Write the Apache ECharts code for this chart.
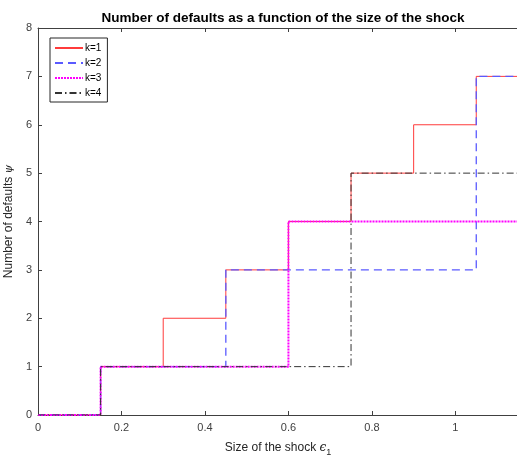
<!DOCTYPE html>
<html>
<head>
<meta charset="utf-8">
<script src="https://cdn.jsdelivr.net/npm/echarts@6/dist/echarts.min.js"></script>
<style>
  html, body { margin: 0; padding: 0; background: #fff; }
  #chart { width: 517px; height: 458px; }
</style>
</head>
<body>
<div id="chart"></div>
<script>
// Shock sizes where the number of defaults changes (last entry closes the axis)
var shockSizes = [0, 0.15, 0.3, 0.45, 0.6, 0.75, 0.9, 1.05, 1.15];
// Number of defaults from each shock size onward, per k
var defaultsK1 = [0, 1, 2, 3, 4, 5, 6, 7, 7];
var defaultsK2 = [0, 1, 1, 3, 3, 3, 3, 7, 7];
var defaultsK3 = [0, 1, 1, 1, 4, 4, 4, 4, 4];
var defaultsK4 = [0, 1, 1, 1, 1, 5, 5, 5, 5];
var seriesNames = ['k=1', 'k=2', 'k=3', 'k=4'];
var xTicks = [0, 0.2, 0.4, 0.6, 0.8, 1];

function pairs(xs, ys) {
  return xs.map(function (x, i) { return [x, ys[i]]; });
}

var FONT = '"Liberation Sans", Arial, Helvetica, sans-serif';
var AXIS_COLOR = '#404040';

var styles = [
  { color: '#ff3b3b', type: 'solid', width: 1 },
  { color: '#5a5aff', type: [8, 5], width: 1.3 },
  { color: '#ff00ff', type: [2, 1], width: 2 },
  { color: '#333333', type: [7, 3, 1.5, 3], width: 1 }
];
var values = [defaultsK1, defaultsK2, defaultsK3, defaultsK4];

var chart = echarts.init(document.getElementById('chart'), null, { renderer: 'canvas' });

var series = seriesNames.map(function (name, i) {
  return {
    name: name,
    type: 'line',
    step: 'end',
    symbol: 'none',
    silent: true,
    animation: false,
    data: pairs(shockSizes, values[i]),
    lineStyle: styles[i],
    itemStyle: { color: styles[i].color },
    z: 2 + i
  };
});

chart.setOption({
  animation: false,
  textStyle: { fontFamily: FONT },
  title: {
    text: 'Number of defaults as a function of the size of the shock',
    left: 278,
    textAlign: 'center',
    top: 6,
    textStyle: { fontSize: 13.5, fontWeight: 'bold', color: '#000', fontFamily: FONT }
  },
  legend: {
    left: 50,
    top: 38,
    orient: 'vertical',
    itemWidth: 28,
    itemHeight: 8,
    itemGap: 5,
    padding: [5, 6, 4, 4],
    borderColor: '#262626',
    borderWidth: 1,
    backgroundColor: '#fff',
    itemStyle: { opacity: 0 },
    textStyle: { fontSize: 10, color: '#000', fontFamily: FONT, padding: [0, 0, 0, -3] },
    data: seriesNames
  },
  grid: {
    left: 38, top: 28, width: 480, height: 387,
    containLabel: false, outerBoundsMode: 'none'
  },
  xAxis: [{
    type: 'value',
    min: 0,
    max: 1.15,
    interval: 0.2,
    name: '{t|Size of the shock }{e|\u03f5}{s|1}',
    nameLocation: 'middle',
    nameGap: 24,
    nameTextStyle: {
      rich: {
        t: { fontSize: 12, color: '#262626', fontFamily: FONT },
        e: { fontSize: 12, color: '#262626', fontFamily: 'DejaVu Serif', fontStyle: 'italic' },
        s: { fontSize: 9, color: '#262626', fontFamily: FONT, padding: [9, 0, 0, 0] }
      }
    },
    axisLine: { onZero: false, lineStyle: { color: AXIS_COLOR, width: 1 } },
    axisTick: { inside: true, length: 4, lineStyle: { color: AXIS_COLOR } },
    axisLabel: {
      color: '#404040', fontSize: 11, margin: 7, showMaxLabel: false,
      formatter: function (v) {
        for (var i = 0; i < xTicks.length; i++) {
          if (Math.abs(xTicks[i] - v) < 1e-9) return String(xTicks[i]);
        }
        return '';
      }
    },
    splitLine: { show: false }
  }, {
    type: 'value',
    position: 'top',
    min: 0,
    max: 1.15,
    interval: 0.2,
    axisLine: { onZero: false, lineStyle: { color: AXIS_COLOR, width: 1 } },
    axisTick: { inside: true, length: 4, lineStyle: { color: AXIS_COLOR } },
    axisLabel: { show: false },
    splitLine: { show: false }
  }],
  yAxis: [{
    type: 'value',
    min: 0,
    max: 8,
    interval: 1,
    name: '{t|Number of defaults }{p|\u03c8}',
    nameLocation: 'middle',
    nameRotate: 90,
    nameGap: 19,
    nameTextStyle: {
      rich: {
        t: { fontSize: 12, color: '#262626', fontFamily: FONT },
        p: { fontSize: 11, color: '#262626', fontFamily: 'DejaVu Serif', fontStyle: 'italic' }
      }
    },
    axisLine: { onZero: false, lineStyle: { color: AXIS_COLOR, width: 1 } },
    axisTick: { inside: true, length: 4, lineStyle: { color: AXIS_COLOR } },
    axisLabel: { color: '#404040', fontSize: 11, margin: 6 },
    splitLine: { show: false }
  }],
  series: series
});
</script>
</body>
</html>
